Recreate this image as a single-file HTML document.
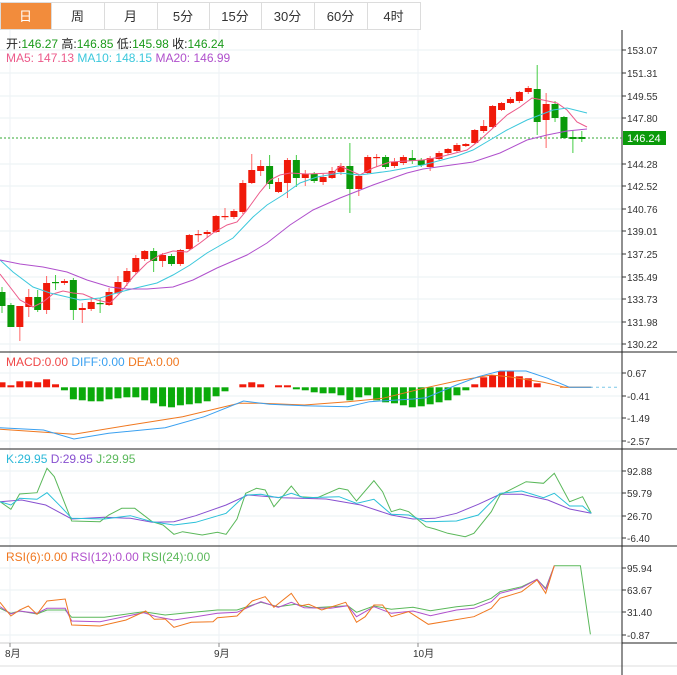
<!DOCTYPE html>
<html><head><meta charset="utf-8"><style>
body{margin:0;background:#fff;width:677px;height:675px;overflow:hidden;font-family:"Liberation Sans","Noto Sans CJK SC",sans-serif;}
svg{position:absolute;left:0;top:0}
</style></head><body>
<svg id="s" width="677" height="675" xmlns="http://www.w3.org/2000/svg" font-family="Liberation Sans, Noto Sans CJK SC, sans-serif"></svg>
<script>
var s=document.getElementById('s'),h='';
function L(x1,y1,x2,y2,c,w,d){h+='<line x1="'+x1+'" y1="'+y1+'" x2="'+x2+'" y2="'+y2+'" stroke="'+c+'" stroke-width="'+(w||1)+'"'+(d?' stroke-dasharray="'+d+'"':'')+'/>';}
function R(x,y,w,hh,c,st){h+='<rect x="'+x+'" y="'+y+'" width="'+w+'" height="'+hh+'" fill="'+c+'"'+(st?' stroke="'+st+'"':'')+'/>';}
function T(x,y,t,c,fs,a){h+='<text x="'+x+'" y="'+y+'" fill="'+c+'" font-size="'+(fs||11)+'"'+(a?' text-anchor="'+a+'"':'')+'>'+t+'</text>';}
function P(pts,c,w){h+='<polyline fill="none" stroke="'+c+'" stroke-width="'+(w||1)+'" points="'+pts.map(function(p){return p[0].toFixed(1)+','+p[1].toFixed(1)}).join(' ')+'"/>';}
function Z(arr,oy){var r=[];for(var i=0;i<arr.length;i+=2)r.push([arr[i]/2.3,arr[i+1]/3+oy]);return r;}
var tabs=[['日',0,51],['周',51,104],['月',104,157],['5分',157,209],['15分',209,261],['30分',261,314],['60分',314,367],['4时',367,420]];
tabs.forEach(function(t,i){R(t[1]+.5,2.5,t[2]-t[1],27,i==0?'#f28c3c':'#fff','#dcdcdc');T((t[1]+t[2])/2,21,t[0],i==0?'#fff':'#333',13,'middle');});
var gy=[50,73,96,118,164,186,209,231,254,277,299,322,344];
gy.forEach(function(y){L(0,y,622,y,'#eaf0f3');});
[373,396,418,441,471,493,516,538,568,590,612,635].forEach(function(y){L(0,y,622,y,'#eaf0f3');});
[10,219,418].forEach(function(x){L(x,30,x,643,'#eef2f5');});
L(0,352,677,352,'#222');L(0,449,677,449,'#222');L(0,546,677,546,'#222');
L(0,643,622,643,'#ccc');L(622,643,677,643,'#222');L(0,666,677,666,'#ddd');
L(622,30,622,675,'#222');
var pl=['153.07','151.31','149.55','147.80','144.28','142.52','140.76','139.01','137.25','135.49','133.73','131.98','130.22'];
gy.forEach(function(y,i){L(622,y,626,y,'#333');T(627,y+4,pl[i],'#333',10);});
[['0.67',373],['-0.41',396],['-1.49',418],['-2.57',441],['92.88',471],['59.79',493],['26.70',516],['-6.40',538],['95.94',568],['63.67',590],['31.40',612],['-0.87',635]].forEach(function(a){L(622,a[1],626,a[1],'#333');T(627,a[1]+4,a[0],'#333',10);});
L(0,138,622,138,'#3a3','1','2,2');R(623,131,43,14,'#0a9a0a');T(627,142,'146.24','#fff',11);
var G='#0a9a0a',Rd='#f01a0a';
var c=[[292,306,287,313,G],[305,327,303,327,G],[306,327,306,341,Rd],[297,307,289,317,Rd],[297,310,290,312,G],[283,310,276,314,Rd],[282,283,275,290,G],[281,283,279,285,Rd],[280,310,278,320,G],[308,310,303,323,Rd],[302,309,298,311,Rd],[303,304,298,313,G],[292,305,288,306,Rd],[282,293,276,294,Rd],[271,282,268,286,Rd],[258,272,255,274,Rd],[251,259,250,261,Rd],[251,261,248,272,G],[255,261,253,267,Rd],[256,264,254,266,G],[250,264,249,266,Rd],[235,249,234,250,Rd],[234,235,230,242,Rd],[232,234,230,238,Rd],[216,232,215,233,Rd],[216,217,208,220,Rd],[211,217,209,219,Rd],[183,212,180,214,Rd],[170,183,154,184,Rd],[166,171,160,176,Rd],[166,184,155,189,G],[182,192,178,193,Rd],[160,183,158,198,Rd],[160,178,155,187,G],[174,178,170,186,Rd],[174,181,172,183,G],[177,182,174,185,Rd],[171,178,167,179,Rd],[166,172,163,175,Rd],[166,189,143,213,G],[176,189,175,196,Rd],[157,173,155,174,Rd],[157,158,154,167,Rd],[157,167,155,169,G],[162,166,158,168,Rd],[157,163,155,165,Rd],[158,161,150,164,G],[160,165,158,167,G],[158,167,156,171,Rd],[153,159,151,160,Rd],[149,153,148,155,Rd],[145,151,143,152,Rd],[144,146,143,147,Rd],[130,143,129,144,Rd],[126,131,120,133,Rd],[106,127,105,128,Rd],[103,110,102,111,Rd],[99,103,97,104,Rd],[92,101,91,103,Rd],[88,92,86,94,Rd],[89,122,65,135,G],[104,120,93,148,Rd],[104,118,101,122,G],[117,138,116,139,G],[137,139,130,153,G],[137,139,131,142,G]];
c.forEach(function(k,i){var x=2+i*8.92;L(x,k[2],x,k[3],k[4]==G?'#4c4':'#f66');R(x-3.5,k[0],7,Math.max(1.2,k[1]-k[0]),k[4]);});
P([[0,274],[10,287],[20,300],[33,307],[43,302],[53,294],[63,291],[73,293],[83,294],[97,300],[110,303],[120,293],[133,277],[147,263],[160,255],[173,251],[187,252],[200,243],[213,233],[227,225],[237,222],[247,210],[260,192],[270,180],[280,175],[290,173],[307,174],[333,173],[340,166],[360,175],[373,168],[390,162],[423,160],[440,157],[467,150],[480,140],[493,128],[507,115],[520,107],[532,98],[543,100],[557,103],[567,110],[577,122],[587,127]],'#ec5a8a');
P([[0,260],[13,272],[33,287],[50,293],[80,300],[100,298],[120,292],[140,287],[157,283],[173,275],[190,265],[207,253],[233,238],[253,217],[267,205],[283,195],[300,183],[317,177],[340,173],[360,175],[390,171],[423,165],[457,156],[473,150],[490,140],[507,130],[527,120],[540,115],[553,110],[567,108],[587,113]],'#3cc8dc');
P([[0,260],[20,264],[43,267],[67,272],[87,280],[110,287],[127,289],[147,289],[173,287],[193,280],[217,268],[247,255],[267,243],[290,225],[313,210],[340,198],[373,185],[407,173],[423,169],[473,162],[500,153],[527,140],[547,135],[567,131],[587,129]],'#b050cc');
h+='<text x="6" y="48" font-size="12" fill="#222">开:<tspan fill="#1a9a1a">146.27</tspan>  高:<tspan fill="#1a9a1a">146.85</tspan>  低:<tspan fill="#1a9a1a">145.98</tspan>  收:<tspan fill="#1a9a1a">146.24</tspan></text>';
h+='<text x="6" y="62" font-size="12"><tspan fill="#ec5a8a">MA5: 147.13</tspan>  <tspan fill="#3cc8dc">MA10: 148.15</tspan>  <tspan fill="#b050cc">MA20: 146.99</tspan></text>';
h+='<text x="6" y="366" font-size="12"><tspan fill="#f04848">MACD:0.00</tspan>  <tspan fill="#3aa0f0">DIFF:0.00</tspan>  <tspan fill="#f07820">DEA:0.00</tspan></text>';
h+='<text x="6" y="463" font-size="12"><tspan fill="#2ab8d8">K:29.95</tspan>  <tspan fill="#8850d0">D:29.95</tspan>  <tspan fill="#5ab85a">J:29.95</tspan></text>';
h+='<text x="6" y="561" font-size="12"><tspan fill="#f07820">RSI(6):0.00</tspan>  <tspan fill="#b050cc">RSI(12):0.00</tspan>  <tspan fill="#5ab85a">RSI(24):0.00</tspan></text>';
var zy=387.3;
var mb=[5,2,6,6,5,8,3,-3,-12,-13,-14,-14,-12,-11,-10,-10,-13,-16,-19,-20,-18,-17,-16,-14,-9,-4,0,3,5,3,0,2,2,-2,-3,-5,-6,-6,-8,-13,-10,-8,-13,-15,-16,-18,-20,-19,-17,-15,-13,-8,-3,3,10,12,16,16,11,9,4];
mb.forEach(function(v,i){var x=2+i*8.92;if(v>0)R(x-3.5,zy-v,7,v,'#f01a0a');else if(v<0)R(x-3.5,zy,7,-v,'#0aaa0a');});
L(560,zy,590,zy,'#f07820');L(590,zy,620,zy,'#7cc8e8',1,'3,3');
P(Z([0,253,60,258,170,268,300,240,420,215,550,175,600,175,700,180,800,170,880,160,980,128,1050,108,1130,90,1170,95,1250,112,1300,127,1360,127],345),'#f07820');
P(Z([0,248,100,255,170,282,250,265,380,248,470,215,560,168,620,178,700,182,800,185,850,170,950,162,980,158,1050,120,1100,95,1150,78,1210,78,1260,100,1310,127,1360,127],345),'#3aa0f0');
P(Z([0,170,50,165,105,180,165,222,240,217,300,220,350,232,400,230,450,212,520,180,570,150,650,158,750,162,830,180,900,210,950,222,1000,220,1050,205,1100,178,1150,148,1200,148,1260,165,1310,192,1360,205],445),'#8850d0');
P(Z([0,170,25,193,45,147,85,143,108,70,125,95,165,228,230,230,250,210,280,190,310,190,350,230,375,240,400,268,420,260,465,270,500,262,520,268,545,222,565,145,590,130,610,135,630,185,670,123,690,155,730,158,780,130,800,135,820,168,860,107,880,140,900,200,920,192,940,200,980,245,1000,252,1030,265,1070,275,1090,265,1130,200,1150,150,1210,110,1250,115,1275,85,1310,170,1340,155,1360,205],445),'#5ab85a');
P(Z([0,170,25,180,45,160,85,163,108,143,140,185,165,220,240,222,300,212,350,230,400,240,450,232,520,205,565,150,600,148,640,158,670,145,700,158,780,155,820,175,860,163,900,208,940,210,980,230,1050,228,1100,210,1150,145,1200,138,1250,158,1275,145,1310,183,1340,183,1360,205],445),'#2ac0d8');
P(Z([0,190,25,205,45,198,85,207,108,195,150,195,165,217,240,217,330,200,380,210,420,205,500,195,545,195,600,172,640,185,680,178,720,188,800,182,820,202,860,183,900,193,950,187,990,197,1050,185,1090,180,1130,160,1150,140,1200,125,1235,103,1255,130,1275,62,1335,62,1358,268],545),'#5ab85a');
P(Z([0,185,25,207,45,198,85,205,108,190,150,190,165,228,230,230,330,203,360,215,400,225,450,215,500,205,545,202,600,170,640,187,670,172,700,188,760,190,800,182,820,215,860,185,900,205,950,198,990,212,1050,195,1090,190,1130,170,1150,145,1200,128,1235,103,1255,133,1275,62],545),'#b050cc');
P(Z([0,172,25,213,45,195,65,183,85,208,108,168,150,162,165,240,230,243,290,225,335,198,355,223,380,222,400,247,440,232,490,230,500,218,545,213,580,168,610,155,630,187,670,145,690,183,710,178,740,195,795,172,820,232,840,215,860,180,880,180,900,215,940,200,985,238,1090,215,1130,190,1150,160,1200,140,1235,105,1255,145,1275,62],545),'#f07820');
[[10,'8月'],[219,'9月'],[418,'10月']].forEach(function(a){L(a[0],643,a[0],647,'#888');T(a[0]-5,657,a[1],'#333',10);});
s.innerHTML=h;
</script>
</body></html>
